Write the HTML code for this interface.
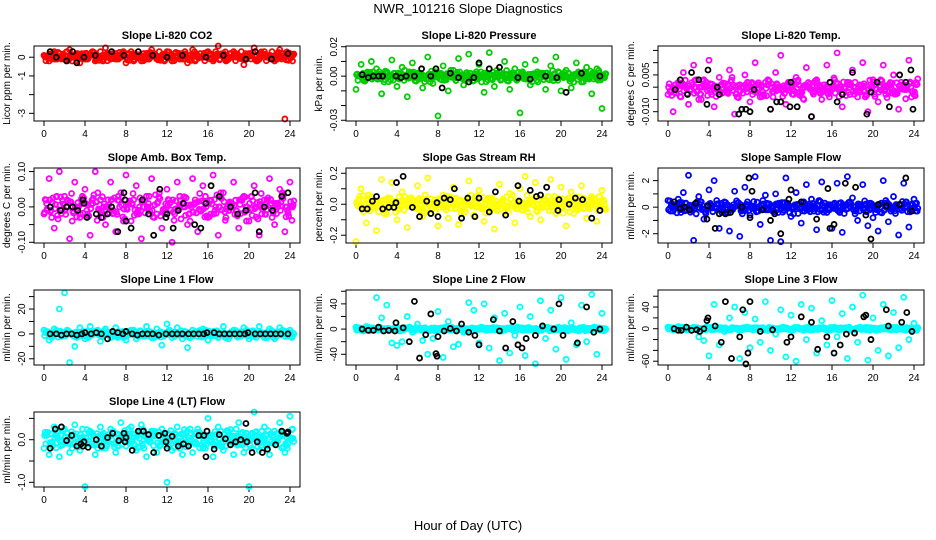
<!DOCTYPE html>
<html><head><meta charset="utf-8"><style>
body{margin:0;background:#fff;}
svg{display:block;font-family:"Liberation Sans",sans-serif;}
</style></head><body>
<svg id="chart" width="936" height="540" viewBox="0 0 936 540" xmlns="http://www.w3.org/2000/svg">
<rect width="936" height="540" fill="#fff"/>
<text x="468" y="13" font-size="13" text-anchor="middle">NWR_101216  Slope Diagnostics</text>
<text x="468" y="530" font-size="13" text-anchor="middle">Hour of Day (UTC)</text>
</svg>
<script>
const hours=[0,0.5,1,1.5,2,2.5,3,3.5,4,4.5,5,5.5,6,6.5,7,7.5,8,8.5,9,9.5,10,10.5,11,11.5,12,12.5,13,13.5,14,14.5,15,15.5,16,16.5,17,17.5,18,18.5,19,19.5,20,20.5,21,21.5,22,22.5,23,23.5,24];
const xTicks=[0,4,8,12,16,20,24];
const titles=["Slope Li-820 CO2","Slope Li-820 Pressure","Slope Li-820 Temp.","Slope Amb. Box Temp.","Slope Gas Stream RH","Slope Sample Flow","Slope Line 1 Flow","Slope Line 2 Flow","Slope Line 3 Flow","Slope Line 4 (LT) Flow"];
const yTitles=["Licor ppm per min.","kPa per min.","degrees C per min.","degrees C per min.","percent per min.","ml/min per min.","ml/min per min.","ml/min per min.","ml/min per min.","ml/min per min."];
const colors=["#ff0000","#00cc00","#ff00ff","#ff00ff","#ffff00","#0000ff","#00ffff","#00ffff","#00ffff","#00ffff"];
const yLo=[-3.41,-30.5,-13.8,-10.2,-25,-2.7,-25,-57,-67,-111];
const yHi=[0.6,20.5,16.8,11,23.4,2.95,35.3,62,71.5,65];
const yTickVals=[[0,-1,-2,-3],[20,10,0,-10,-20,-30],[15,10,5,0,-5,-10],[10,5,0,-5,-10],[20,10,0,-10,-20],[2,1,0,-1,-2],[30,20,10,0,-10,-20],[60,40,20,0,-20,-40],[60,40,20,0,-20,-40,-60],[50,0,-50,-100]];
const yTickLabels=[["0","-1","","-3"],["0.02","","0.00","","","-0.03"],["","","0.005","","","-0.010"],["0.10","","0.00","","-0.10"],["0.2","","0.0","","-0.2"],["2","","0","","-2"],["","20","","0","","-20"],["","40","","0","","-40"],["","40","","0","","","-60"],["","0.0","","-1.0"]];

const a1=[0.1,-0.2,0.3,0.2,-0.1,0.4,0.0,-0.3,0.2,0.1,-0.2,0.3,0.5,-0.1,0.2,0.0,-0.3,0.3,0.1,-0.2,0.2,0.4,-0.1,0.0,0.3,-0.2,0.1,0.2,-0.3,0.4,0.1,0.0,0.3,-0.2,0.6,0.2,-0.1,0.3,0.0,-0.4,0.2,0.5,-0.1,0.3,0.1,-0.2,0.4,-3.3,0.2];
const b1=[0.0,0.2,-0.1,0.1,0.3,-0.2,0.2,0.1,-0.1,0.3,0.0,-0.2,0.2,0.1,-0.1,0.3,0.2,-0.2,0.0,0.2,-0.1,0.1,0.3,-0.2,0.0,0.2,-0.1,0.3,0.1,-0.2,0.2,0.0,-0.1,0.3,0.1,-0.2,0.2,0.0,0.3,-0.1,0.1,-0.2,0.2,0.0,0.3,-0.1,0.2,0.1,-0.2];
const k1x=[0.6,1.2,2.2,2.8,3.2,3.9,5.0,6.6,7.8,9.2,10.6,12.0,13.5,15.8,17.5,19.7,20.6,22.2,23.8];
const k1y=[0.3,0.0,-0.2,0.3,-0.3,0.0,0.1,0.3,0.1,0.3,0.1,0.0,0.1,0.0,0.1,-0.1,0.3,-0.1,0.2];

const a2=[-9,8,-2,10,5,-12,3,11,-7,6,-14,9,2,-8,13,-5,-27,7,-10,4,12,-6,15,-3,8,-11,16,-7,3,10,-9,5,-25,8,-6,11,2,-9,7,13,-10,4,-8,9,-4,6,-12,5,-22];
const b2=[0,-3,2,-1,3,-4,1,2,-2,4,-1,-3,2,0,-4,3,1,-2,4,-3,0,2,-1,3,-4,1,-2,4,0,-3,2,-1,3,-2,1,-4,2,0,-3,3,-1,2,-4,1,3,-2,0,2,-1];
const k2x=[0.6,1.2,1.7,2.2,2.6,3.9,4.4,4.9,5.7,6.4,7.3,7.8,8.4,9.2,10.0,11.0,11.5,12.0,13.0,14.0,15.8,17.0,18.5,19.6,20.5,22.0,23.8];
const k2y=[1,-1,0,0,0,0,-1,0,0,5,0,5,-8,2,-1,-4,-1,9,5,6,-1,-2,0,-1,-11,2,0];

const a3=[-3,-10,2,6,-7,9,-5,3,11,-8,4,-2,7,-11,1,5,-6,10,-4,2,-9,6,13,-7,0,4,-3,8,-12,3,-5,9,-1,14,-8,2,7,-4,10,-10,3,-6,9,-2,5,-9,1,11,-3];
const b3=[-2,1,-4,0,-1,3,-5,2,-3,-1,1,-2,4,-4,0,2,-3,1,-2,3,-4,0,-1,2,-3,1,-5,0,2,-2,1,-4,3,-1,0,-3,2,-2,-4,1,-1,3,-3,0,-2,2,-1,-4,1];
const k3x=[0.7,1.2,1.9,2.3,3.0,3.8,3.9,4.8,5.0,6.9,7.2,7.6,8.0,8.4,10.0,10.6,11.0,11.9,12.0,12.6,14.0,15.8,16.5,17.0,18.0,19.4,19.8,20.4,21.6,22.6,23.2,23.7,23.9];
const k3y=[-1,3,-3,6,3,-7,7,0,-3,-11,-9,-9,-10,-1,-9,-6,-6,-8,2,-8,-12,2,-6,-3,6,-11,-2,2,-8,5,2,7,-9];

const a4=[-2,8,-6,10,3,-9,7,-3,5,-8,10,2,-5,7,-7,4,9,-4,6,-9,3,8,-2,-6,5,-10,7,1,-5,8,-7,6,-3,9,-8,4,-1,7,-6,3,-4,6,-8,2,8,-5,5,-7,7];
const b4=[1,-3,3,-1,2,-4,0,3,-2,1,4,-3,2,-1,3,-4,1,2,-2,0,3,-3,4,-1,1,-2,3,0,-4,2,-1,3,-2,0,4,-3,1,-1,2,-4,3,0,-2,2,-3,1,4,-1,0];
const k4x=[0.6,1.6,2.2,2.8,3.3,3.8,3.9,4.2,5.1,5.6,6.2,6.6,7.2,7.8,7.9,8.0,8.5,9.6,10.2,10.7,11.3,11.9,12.0,12.6,13.1,13.6,14.7,15.3,15.8,16.3,17.1,18.2,18.9,19.7,20.6,21.0,21.5,22.3,23.2,23.8];
const k4y=[0,-1,0,0,-1,2,1,-3,-2,-3,-2,0,-7,4,2,-4,-6,2,-2,-8,5,-3,-2,-6,-1,1,-5,-6,1,6,3,0,-2,-1,4,-7,0,-1,3,4];

const a5=[-24,10,-12,5,-17,16,-6,14,-10,8,-15,3,12,-8,17,-3,-14,6,-9,11,-13,2,15,-7,9,-11,4,-16,13,-5,7,-12,10,18,-8,14,-10,3,16,-6,11,-14,8,-3,12,-9,5,-11,9];
const b5=[3,-5,6,-2,1,-6,4,0,-3,5,-1,2,-4,6,0,-5,3,-2,1,4,-6,2,-1,5,-3,0,4,-4,2,-1,6,-3,1,-5,3,0,-2,5,-4,2,-1,4,-6,1,3,-2,0,5,-3];
const k5x=[0.6,1.1,1.6,2.0,2.6,3.2,3.7,3.9,3.95,4.6,5.5,6.2,6.9,7.3,7.9,8.0,8.6,9.2,9.6,10.3,10.9,11.6,12.0,13.0,13.6,14.6,15.8,15.9,17.0,17.6,18.0,18.6,19.7,19.8,20.8,21.4,22.1,23.0,23.8];
const k5y=[-3,-3,2,5,-3,-2,-2,1,14,18,-2,-8,2,-6,1,-8,4,3,10,-9,4,-8,4,-5,8,-7,12,2,9,5,6,11,-4,3,0,4,3,-9,-4];

const a6=[0.5,-0.3,0.6,1.1,2.4,-2.5,0.8,-0.9,1.3,2.0,-1.6,0.4,-1.8,1.2,-2.2,1.5,-0.6,2.3,-1.3,0.9,-2.5,1.0,-2.6,2.2,-0.7,1.1,-1.2,1.7,0.6,-1.7,1.9,-0.4,-1.6,1.8,-1.9,2.3,0.7,-1.0,1.7,-1.4,-0.8,-1.8,2.0,-1.1,0.8,-2.1,1.8,-1.5,0.6];
const b6=[-0.3,0.2,-0.4,0.3,0.0,-0.5,0.4,-0.2,0.1,0.5,-0.4,0.2,-0.1,0.3,-0.5,0.4,0.0,-0.3,0.5,-0.2,0.1,-0.4,0.3,0.0,-0.5,0.2,0.4,-0.1,-0.3,0.5,0.0,-0.2,0.3,-0.4,0.1,0.4,-0.5,0.2,-0.1,0.3,-0.4,0.0,0.5,-0.3,0.2,-0.1,0.4,-0.2,0.3];
const k6x=[0.6,1.2,1.6,2.1,2.7,3.8,3.9,4.6,5.0,5.6,6.1,7.2,7.9,8.0,8.2,9.2,10.0,10.4,11.0,11.8,12.0,13.0,14.5,15.6,15.8,16.2,17.3,18.3,19.3,19.8,20.5,21.3,22.6,23.2,23.8];
const k6y=[0.4,-0.1,0.0,-0.2,0.3,-0.9,0.1,-1.6,-0.5,-0.5,-0.4,0.0,2.2,-0.8,1.2,-0.2,-1.0,-0.5,-2.0,0.6,1.3,0.4,-0.9,1.4,-1.6,-1.3,1.8,1.5,-0.6,-2.4,0.2,0.1,0.2,2.2,-0.3];

const a7=[3,-5,4,20,33,-23,-10,5,-4,6,2,-6,4,-3,5,-2,-5,3,-4,2,6,-3,4,-9,8,-3,5,-4,-11,3,-2,4,-5,2,-3,6,-4,3,-2,5,-4,2,6,-3,4,-4,5,-2,3];
const b7=[2,-3,1,-2,3,0,-1,2,-3,1,3,-2,0,2,-1,-3,1,3,-2,0,2,-3,1,-1,3,-2,0,2,-3,1,-1,3,-2,2,0,-3,1,2,-1,3,-2,0,1,-3,2,-1,3,0,-2];
const k7x=[0.6,1.2,1.7,2.2,2.7,3.2,3.7,4.0,4.6,5.1,5.6,6.2,6.7,7.2,7.7,8.0,8.6,9.1,9.6,10.1,10.6,11.2,11.9,12.5,13.0,13.5,14.1,14.6,15.1,15.6,15.9,16.6,17.1,17.6,18.1,18.6,19.1,19.6,19.9,20.6,21.1,21.6,22.1,22.6,23.1,23.8];
const k7y=[0,0,-1,0,0,-1,0,1,0,1,0,-4,2,1,0,2,0,-1,0,0,0,-1,0,0,0,0,0,0,0,0,1,1,0,0,0,0,0,0,1,0,0,0,0,0,0,0];

const a8=[3,-2,4,1,50,18,38,-22,-26,-20,20,-5,8,-18,-40,-15,28,-45,12,-28,-24,-5,42,30,-22,40,-30,18,-50,25,-38,-10,35,-42,20,-55,45,-15,30,-32,50,-48,10,-25,38,-20,55,-40,25];
const b8=[2,-3,1,-2,3,0,-1,2,-3,1,3,-2,0,2,-1,-3,1,3,-2,0,2,-3,1,-1,3,-2,0,2,-3,1,-1,3,-2,2,0,-3,1,2,-1,3,-2,0,1,-3,2,-1,3,0,-2];
const k8x=[0.6,1.2,1.7,2.2,2.7,3.2,3.8,3.9,4.6,5.2,5.7,6.2,6.8,7.3,7.8,7.9,8.0,8.6,9.2,9.8,10.3,11.0,11.6,12.0,13.4,14.0,14.6,15.3,15.8,16.2,16.6,17.5,18.2,19.3,19.8,20.2,21.6,22.5,23.2,23.8];
const k8y=[0,-2,-2,3,-3,-2,-3,10,2,-20,44,-46,-9,24,-39,-43,-12,-3,1,-3,8,-5,-10,-25,15,-3,-30,12,-25,-30,-15,-10,5,0,40,-10,-22,35,-5,0];

const a9=[3,-2,4,2,-1,3,-15,-22,-50,45,-30,-5,20,40,-55,30,-35,18,-25,50,-40,-10,35,-52,25,-60,45,-20,38,-45,15,-30,52,-15,28,-55,40,-25,62,-58,20,-40,45,-50,30,-35,58,-20,10];
const b9=[1,-2,3,0,-3,2,-1,3,-2,1,0,-3,2,1,-1,3,-2,0,2,-3,1,-1,3,0,-2,2,-3,1,0,2,-1,-3,3,-2,1,0,-2,3,-1,2,-3,1,0,-2,3,-1,2,0,-3];
const k9x=[0.6,1.0,1.3,1.8,2.3,2.8,3.1,3.5,3.8,3.9,4.6,5.2,5.6,6.2,7.0,7.3,7.6,7.8,8.0,9.0,10.2,11.6,12.0,13.0,14.0,14.6,15.5,16.2,16.8,17.4,18.2,19.1,19.3,19.8,21.3,21.5,22.8,23.3,23.8];
const k9y=[0,-3,-3,3,-3,-2,-5,0,15,20,5,-25,50,-55,-15,35,-65,-45,50,-5,-2,-25,-15,22,12,-38,-15,-45,-30,-10,-8,22,25,-20,35,5,12,30,-5];

const a10=[-20,-35,30,-40,25,-30,35,-25,-110,20,-35,30,-20,25,-30,40,-15,30,-25,35,-40,20,-30,25,-100,-25,30,-35,20,-30,25,-20,50,-40,30,-25,20,-35,40,-30,-110,65,-25,30,-35,20,40,-30,55];
const b10=[10,-15,20,-5,15,-20,5,25,-10,15,-20,10,-5,20,-15,5,25,-10,15,-20,0,20,-15,10,-5,15,-20,5,25,-10,15,-20,10,-5,20,-15,5,25,-10,15,-20,0,20,-15,10,-5,15,-20,25];
const k10x=[0.6,1.1,1.7,2.2,2.7,3.2,3.6,3.8,3.9,4.3,5.1,5.6,6.2,6.7,7.3,7.8,7.9,8.0,8.6,9.2,9.7,10.2,10.7,11.2,11.8,11.9,12.0,12.5,13.1,13.6,14.1,15.1,15.6,15.8,15.9,16.6,17.1,17.7,18.2,18.7,19.2,19.7,19.8,20.3,20.8,21.3,21.8,22.6,23.2,23.7,23.8];
const k10y=[-20,25,30,-2,10,-15,-10,-15,-5,-18,0,-15,5,15,-2,15,-5,5,-25,20,20,12,-30,10,15,-5,-20,8,-15,-10,-15,10,10,-40,20,-22,12,2,-12,-5,0,38,-5,-30,-5,-30,-22,-12,20,15,18];

const seriesA=[a1,a2,a3,a4,a5,a6,a7,a8,a9,a10];
const seriesB=[b1,b2,b3,b4,b5,b6,b7,b8,b9,b10];
const blackX=[k1x,k2x,k3x,k4x,k5x,k6x,k7x,k8x,k9x,k10x];
const blackY=[k1y,k2y,k3y,k4y,k5y,k6y,k7y,k8y,k9y,k10y];

const NS="http://www.w3.org/2000/svg";
const svg=document.getElementById('chart');
const colL=[34,346,658], rowT=[46,168,290,412], W=266, H=75;
const bandPasses=[[0.25,0,1],[0.12,7,0.7],[0.37,13,0.85],[0.06,21,0.5],[0.19,29,0.95],[0.31,37,0.6]];
function mk(tag,attrs,parent){const e=document.createElementNS(NS,tag);for(const k in attrs)e.setAttribute(k,attrs[k]);(parent||svg).appendChild(e);return e;}

for(let p=0;p<10;p++){
  const L=colL[p%3], T=rowT[Math.floor(p/3)];
  const g=mk('g',{});
  
  
  const xS=h=>L+10+h/24*(W-20);
  const yS=v=>T+H-(v-yLo[p])/(yHi[p]-yLo[p])*H;
  const t=mk('text',{x:L+W/2,y:T-7,'font-size':11,'font-weight':'bold','text-anchor':'middle'},g);
  t.textContent=titles[p];
  
  
  const yt=mk('text',{x:0,y:0,'font-size':10,'text-anchor':'middle',transform:`translate(${L-24},${T+H/2}) rotate(-90)`},g);
  yt.textContent=yTitles[p];
  
  
  xTicks.forEach(v=>{
    const x=xS(v);
    mk('line',{x1:x,x2:x,y1:T+H,y2:T+H+5,stroke:'#000','stroke-width':1},g);
    const tl=mk('text',{x:x,y:T+H+16,'font-size':10,'text-anchor':'middle'},g);
    tl.textContent=v;
    
    
  });
  yTickVals[p].forEach((v,i)=>{
    const y=yS(v);
    if(y<T-1||y>T+H+1)return;
    mk('line',{x1:L-5,x2:L,y1:y,y2:y,stroke:'#000','stroke-width':1},g);
    const lab=yTickLabels[p][i];
    if(lab){
      const tl=mk('text',{x:0,y:0,'font-size':10,'text-anchor':'middle',transform:`translate(${L-9},${y}) rotate(-90)`},g);
      tl.textContent=lab;
      
      
    }
  });
  const clipId='c'+p;
  const cp=mk('clipPath',{id:clipId},g); mk('rect',{x:L,y:T-4,width:W,height:H+8},cp);
  const pts=mk('g',{'clip-path':`url(#${clipId})`,fill:'none','stroke-width':1.8},g);
  const drawPt=(x,y,c)=>{
    const c1=mk('circle',{cx:xS(x),cy:yS(y),r:2.5,stroke:c},pts);
    
    
  };
  const A=seriesA[p],B=seriesB[p];
  for(let i=0;i<Math.min(A.length,hours.length);i++)drawPt(hours[i],A[i],colors[p]);
  bandPasses.forEach(([dx,sh,sc])=>{
    for(let i=0;i<Math.min(B.length,hours.length);i++)drawPt(hours[i]+dx,B[(i+sh)%B.length]*sc,colors[p]);
  });
  const KX=blackX[p],KY=blackY[p];
  for(let i=0;i<Math.min(KX.length,KY.length);i++)drawPt(KX[i],KY[i],'#000');
  const box=mk('rect',{x:L,y:T,width:W,height:H,fill:'none',stroke:'#000','stroke-width':1},g);
  
  
}
</script>
</body></html>
